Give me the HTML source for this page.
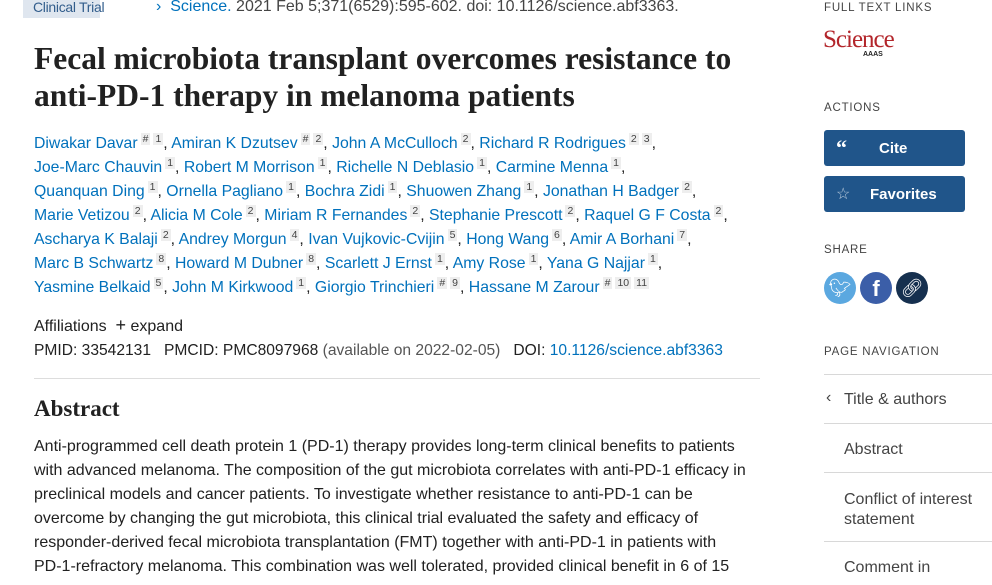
<!DOCTYPE html>
<html><head><meta charset="utf-8"><style>
*{margin:0;padding:0;box-sizing:border-box}
body{width:992px;height:585px;overflow:hidden;background:#fff;font-family:"Liberation Sans",sans-serif;color:#212121;position:relative}
.a{position:absolute;white-space:nowrap}
a{color:#0071bc;text-decoration:none}
.au{font-size:15.8px;left:34px;line-height:24px}
sup{font-size:10.5px;color:#444;background:#eee;padding:0 2px;margin-left:3px;vertical-align:6px;line-height:12px}
.ab{left:34px;font-size:16px;line-height:24px}
.side-h{left:824px;font-size:11.5px;letter-spacing:.8px;color:#444}
.btn{position:absolute;left:824px;width:141px;height:36px;background:#20558a;border-radius:3px;color:#fff;font-weight:bold;font-size:15px}
.nav{position:absolute;left:824px;width:168px;border-top:1px solid #d8d8d8;font-size:16px;color:#444;padding-left:20px}
</style></head><body>
<div class="a" style="left:23px;top:-6px;width:77px;height:24px;background:#dfe6ef;color:#325d8c;font-size:14px;padding:5px 0 0 10px;letter-spacing:-0.3px">Clinical Trial</div>
<div class="a" style="left:156px;top:-2px;font-size:16px;color:#444"><a href="#">&#8250;&nbsp; Science.</a> 2021 Feb 5;371(6529):595-602. doi: 10.1126/science.abf3363.</div>
<h1 class="a" style="left:34px;top:40px;font-family:'Liberation Serif',serif;font-size:31.5px;line-height:37px;font-weight:bold;color:#212121">Fecal microbiota transplant overcomes resistance to<br>anti-PD-1 therapy in melanoma patients</h1>
<div class="a au" style="top:132px"><a href="#">Diwakar Davar</a><sup>#</sup><sup>1</sup>, <a href="#">Amiran K Dzutsev</a><sup>#</sup><sup>2</sup>, <a href="#">John A McCulloch</a><sup>2</sup>, <a href="#">Richard R Rodrigues</a><sup>2</sup><sup>3</sup>,</div>
<div class="a au" style="top:156px"><a href="#">Joe-Marc Chauvin</a><sup>1</sup>, <a href="#">Robert M Morrison</a><sup>1</sup>, <a href="#">Richelle N Deblasio</a><sup>1</sup>, <a href="#">Carmine Menna</a><sup>1</sup>,</div>
<div class="a au" style="top:180px"><a href="#">Quanquan Ding</a><sup>1</sup>, <a href="#">Ornella Pagliano</a><sup>1</sup>, <a href="#">Bochra Zidi</a><sup>1</sup>, <a href="#">Shuowen Zhang</a><sup>1</sup>, <a href="#">Jonathan H Badger</a><sup>2</sup>,</div>
<div class="a au" style="top:204px"><a href="#">Marie Vetizou</a><sup>2</sup>, <a href="#">Alicia M Cole</a><sup>2</sup>, <a href="#">Miriam R Fernandes</a><sup>2</sup>, <a href="#">Stephanie Prescott</a><sup>2</sup>, <a href="#">Raquel G F Costa</a><sup>2</sup>,</div>
<div class="a au" style="top:228px"><a href="#">Ascharya K Balaji</a><sup>2</sup>, <a href="#">Andrey Morgun</a><sup>4</sup>, <a href="#">Ivan Vujkovic-Cvijin</a><sup>5</sup>, <a href="#">Hong Wang</a><sup>6</sup>, <a href="#">Amir A Borhani</a><sup>7</sup>,</div>
<div class="a au" style="top:252px"><a href="#">Marc B Schwartz</a><sup>8</sup>, <a href="#">Howard M Dubner</a><sup>8</sup>, <a href="#">Scarlett J Ernst</a><sup>1</sup>, <a href="#">Amy Rose</a><sup>1</sup>, <a href="#">Yana G Najjar</a><sup>1</sup>,</div>
<div class="a au" style="top:276px"><a href="#">Yasmine Belkaid</a><sup>5</sup>, <a href="#">John M Kirkwood</a><sup>1</sup>, <a href="#">Giorgio Trinchieri</a><sup>#</sup><sup>9</sup>, <a href="#">Hassane M Zarour</a><sup>#</sup><sup>10</sup><sup>11</sup></div>
<div class="a" style="left:34px;top:315px;font-size:16px">Affiliations &nbsp;<span style="font-size:18px">+</span> expand</div>
<div class="a" style="left:34px;top:342px;font-size:15.6px">PMID: 33542131 &nbsp;&nbsp;PMCID: PMC8097968 <span style="color:#555">(available on 2022-02-05)</span> &nbsp;&nbsp;DOI: <a href="#">10.1126/science.abf3363</a></div>
<div class="a" style="left:34px;top:378px;width:726px;border-top:1px solid #ddd"></div>
<h2 class="a" style="left:34px;top:396px;font-family:'Liberation Serif',serif;font-size:23px;font-weight:bold">Abstract</h2>
<div class="a ab" style="top:435px">Anti-programmed cell death protein 1 (PD-1) therapy provides long-term clinical benefits to patients</div>
<div class="a ab" style="top:459px">with advanced melanoma. The composition of the gut microbiota correlates with anti-PD-1 efficacy in</div>
<div class="a ab" style="top:483px">preclinical models and cancer patients. To investigate whether resistance to anti-PD-1 can be</div>
<div class="a ab" style="top:507px">overcome by changing the gut microbiota, this clinical trial evaluated the safety and efficacy of</div>
<div class="a ab" style="top:531px">responder-derived fecal microbiota transplantation (FMT) together with anti-PD-1 in patients with</div>
<div class="a ab" style="top:555px">PD-1-refractory melanoma. This combination was well tolerated, provided clinical benefit in 6 of 15</div>

<div class="a side-h" style="top:2px">FULL TEXT LINKS</div>
<div class="a" style="left:823px;top:26px;font-family:'Liberation Serif',serif;font-size:25px;color:#b3262b;letter-spacing:-1px">Science<div style="position:absolute;left:40px;top:25px;font-family:'Liberation Sans';font-size:7px;color:#222;letter-spacing:0;font-weight:bold">AAAS</div></div>
<div class="a side-h" style="top:102px">ACTIONS</div>
<div class="btn" style="top:130px"><span style="position:absolute;left:12px;top:7px;font-family:'Liberation Serif';font-size:22px;line-height:22px">“</span><span style="position:absolute;left:55px;top:10px">Cite</span></div>
<div class="btn" style="top:176px"><span style="position:absolute;left:12px;top:8px;font-size:16px;font-weight:normal;color:#bcd">☆</span><span style="position:absolute;left:46px;top:10px">Favorites</span></div>
<div class="a side-h" style="top:244px">SHARE</div>
<div class="a" style="left:824px;top:272px;width:32px;height:32px;border-radius:50%;background:#5ba8e0;color:#fff;text-align:center;font-size:18px;line-height:32px">🐦︎</div>
<div class="a" style="left:860px;top:272px;width:32px;height:32px;border-radius:50%;background:#3b5ea8;color:#fff;text-align:center;font-weight:bold;font-size:22px;line-height:34px">f</div>
<div class="a" style="left:896px;top:272px;width:32px;height:32px;border-radius:50%;background:#16304f;color:#fff;text-align:center;font-size:18px;line-height:32px">🔗︎</div>
<div class="a side-h" style="top:346px">PAGE NAVIGATION</div>
<div class="nav" style="top:374px;height:44px;padding-top:16px"><span style="position:absolute;left:2px;top:14px">&#8249;</span>Title &amp; authors</div>
<div class="nav" style="top:423px;height:48px;padding-top:17px">Abstract</div>
<div class="nav" style="top:472px;height:62px;padding-top:17px;line-height:20px">Conflict of interest<br>statement</div>
<div class="nav" style="top:541px;height:44px;padding-top:17px">Comment in</div>
</body></html>
